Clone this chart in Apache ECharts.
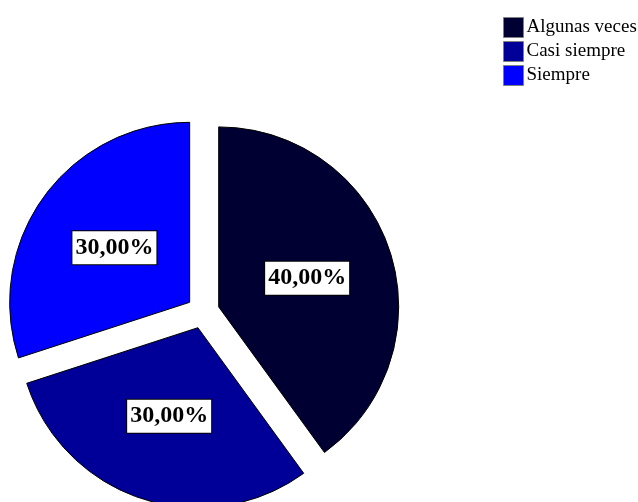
<!DOCTYPE html>
<html>
<head>
<meta charset="utf-8">
<style>
  html, body { margin: 0; padding: 0; background: #ffffff; }
  #chart { width: 638px; height: 502px; }
</style>
<script src="https://cdn.jsdelivr.net/npm/echarts@6/dist/echarts.min.js"></script>
</head>
<body>
<div id="chart"></div>
<script>
// Response categories and their share (percent)
const categories = ['Algunas veces', 'Casi siempre', 'Siempre'];
const shares = [40, 30, 30];
const sliceColors = ['#000033', '#000099', '#0000ff'];

const chart = echarts.init(document.getElementById('chart'), null, { renderer: 'canvas' });

const serif = '"Liberation Serif", "Times New Roman", serif';

chart.setOption({
  animation: false,
  color: sliceColors,
  legend: {
    orient: 'vertical',
    left: 503,
    top: 17,
    padding: 0,
    itemWidth: 20,
    itemHeight: 20,
    itemGap: 3,
    itemStyle: { borderColor: '#808080', borderWidth: 1 },
    textStyle: { fontFamily: serif, fontSize: 19, color: '#000000', padding: [0, 0, 0, -2] },
    icon: 'rect',
    selectedMode: false,
    data: categories
  },
  series: [{
    type: 'pie',
    center: [203, 312],
    radius: 180,
    startAngle: 90,
    clockwise: true,
    // every wedge is pulled out from the centre (exploded pie)
    selectedMode: 'multiple',
    selectedOffset: 16.5,
    emphasis: { disabled: true },
    itemStyle: { borderColor: '#000000', borderWidth: 1 },
    label: {
      position: 'inside',
      formatter: p => p.value.toFixed(2).replace('.', ',') + '%',
      fontFamily: serif,
      fontWeight: 'bold',
      fontSize: 24,
      lineHeight: 28,
      color: '#000000',
      backgroundColor: '#ffffff',
      borderColor: '#000000',
      borderWidth: 1,
      padding: [3, 3, 2, 3]
    },
    labelLine: { show: false },
    data: categories.map((name, i) => ({ name, value: shares[i], selected: true }))
  }]
});
</script>
</body>
</html>
